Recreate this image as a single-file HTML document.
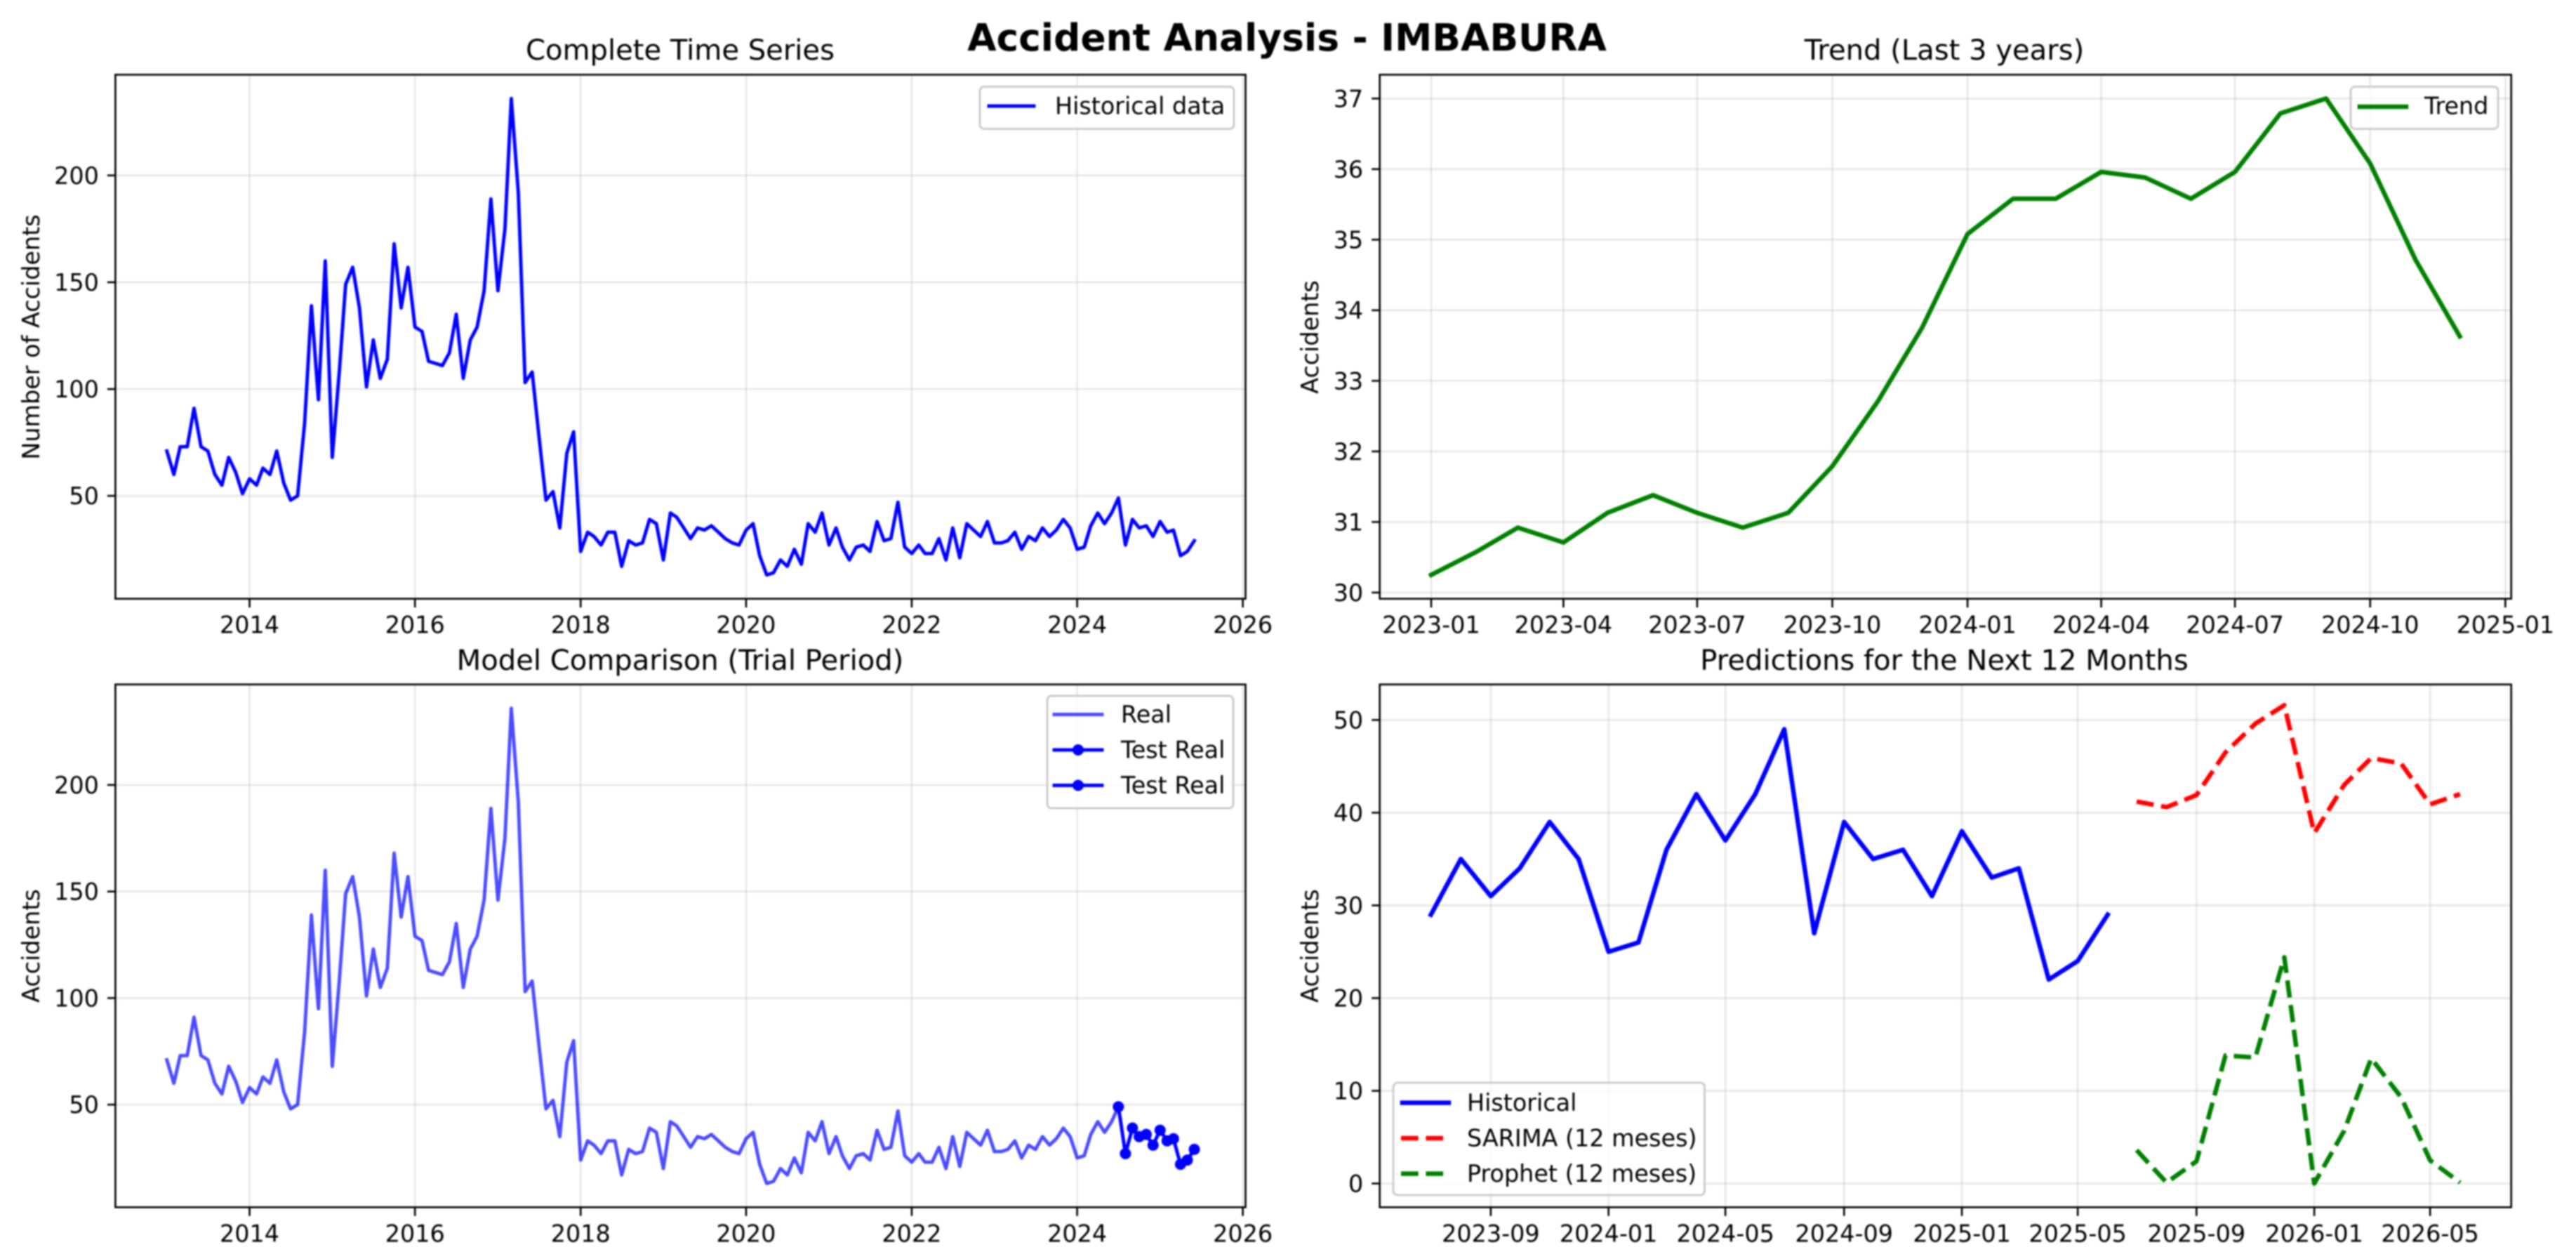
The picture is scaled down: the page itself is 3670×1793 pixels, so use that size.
<!DOCTYPE html>
<html lang="en">
<head>
<meta charset="utf-8">
<title>Accident Analysis - IMBABURA</title>
<style>
html,body{margin:0;padding:0;background:#fff;width:3670px;height:1793px;overflow:hidden}
svg{display:block;filter:blur(1px)}
text{font-family:"DejaVu Sans","Liberation Sans",sans-serif;fill:#000}
.tick-label,.legend-label,.axis-title{font-size:33.4px}
.panel-title{font-size:40.1px;text-anchor:middle}
.frame{fill:none;stroke:#000;stroke-width:2.6}
.legend-box{fill:#fff;fill-opacity:.8;stroke:#ccc;stroke-width:3}
</style>
</head>
<body>
<svg id="figure" xmlns="http://www.w3.org/2000/svg" width="3670" height="1793" viewBox="0 0 3670 1793">
  <rect width="3670" height="1793" fill="#fff"/>

  <g id="overview-panel"></g>
  <g id="trend-panel"></g>
  <g id="comparison-panel"></g>
  <g id="forecast-panel"></g>

  <text x="1833.5" y="72" font-size="53.4" font-weight="700" text-anchor="middle">Accident Analysis - IMBABURA</text>

  <text class="panel-title" x="969" y="85">Complete Time Series</text>
  <text class="panel-title" x="2770" y="85">Trend (Last 3 years)</text>
  <text class="panel-title" x="969" y="954">Model Comparison (Trial Period)</text>
  <text class="panel-title" x="2770" y="954">Predictions for the Next 12 Months</text>

  <text class="axis-title" text-anchor="middle" transform="translate(56 480) rotate(-90)">Number of Accidents</text>
  <text class="axis-title" text-anchor="middle" transform="translate(1878 480) rotate(-90)">Accidents</text>
  <text class="axis-title" text-anchor="middle" transform="translate(56 1347) rotate(-90)">Accidents</text>
  <text class="axis-title" text-anchor="middle" transform="translate(1878 1347) rotate(-90)">Accidents</text>

  <g>
    <rect class="legend-box" x="1396" y="123.5" width="362" height="60" rx="6"/>
    <line x1="1409" x2="1473" y1="151" y2="151" stroke="#00f" stroke-width="4.9" stroke-linecap="square"/>
    <text class="legend-label" x="1503" y="162.5">Historical data</text>
  </g>

  <g>
    <rect class="legend-box" x="3349" y="123.5" width="210" height="60" rx="6"/>
    <line x1="3362" x2="3428" y1="152" y2="152" stroke="#008000" stroke-width="6.5" stroke-linecap="square"/>
    <text class="legend-label" x="3454" y="162.5">Trend</text>
  </g>

  <g>
    <rect class="legend-box" x="1492" y="991" width="265" height="160" rx="6"/>
    <line x1="1502" x2="1570" y1="1017.5" y2="1017.5" stroke="#00f" stroke-opacity=".7" stroke-width="4.9" stroke-linecap="square"/>
    <text class="legend-label" x="1597" y="1029">Real</text>
    <line x1="1502" x2="1570" y1="1068" y2="1068" stroke="#00f" stroke-width="4.9" stroke-linecap="square"/>
    <circle cx="1536" cy="1068" r="8" fill="#00f"/>
    <text class="legend-label" x="1597" y="1079.5">Test Real</text>
    <line x1="1502" x2="1570" y1="1118.5" y2="1118.5" stroke="#00f" stroke-width="4.9" stroke-linecap="square"/>
    <circle cx="1536" cy="1118.5" r="8" fill="#00f"/>
    <text class="legend-label" x="1597" y="1130">Test Real</text>
  </g>

  <g>
    <rect class="legend-box" x="1985" y="1542" width="443.5" height="160" rx="6"/>
    <line x1="1998" x2="2064" y1="1570.5" y2="1570.5" stroke="#00f" stroke-width="6.5" stroke-linecap="square"/>
    <text class="legend-label" x="2090" y="1582">Historical</text>
    <line x1="1996" x2="2066" y1="1621" y2="1621" stroke="#f00" stroke-width="6.5" stroke-dasharray="24.7 10.7"/>
    <text class="legend-label" x="2090" y="1632.5">SARIMA (12 meses)</text>
    <line x1="1996" x2="2066" y1="1671.5" y2="1671.5" stroke="#008000" stroke-width="6.5" stroke-dasharray="24.7 10.7"/>
    <text class="legend-label" x="2090" y="1683">Prophet (12 meses)</text>
  </g>
</svg>

<script>
// ---------- Categories ----------
const historyMonths = [
"2013-01","2013-02","2013-03","2013-04","2013-05","2013-06","2013-07","2013-08","2013-09","2013-10","2013-11","2013-12",
"2014-01","2014-02","2014-03","2014-04","2014-05","2014-06","2014-07","2014-08","2014-09","2014-10","2014-11","2014-12",
"2015-01","2015-02","2015-03","2015-04","2015-05","2015-06","2015-07","2015-08","2015-09","2015-10","2015-11","2015-12",
"2016-01","2016-02","2016-03","2016-04","2016-05","2016-06","2016-07","2016-08","2016-09","2016-10","2016-11","2016-12",
"2017-01","2017-02","2017-03","2017-04","2017-05","2017-06","2017-07","2017-08","2017-09","2017-10","2017-11","2017-12",
"2018-01","2018-02","2018-03","2018-04","2018-05","2018-06","2018-07","2018-08","2018-09","2018-10","2018-11","2018-12",
"2019-01","2019-02","2019-03","2019-04","2019-05","2019-06","2019-07","2019-08","2019-09","2019-10","2019-11","2019-12",
"2020-01","2020-02","2020-03","2020-04","2020-05","2020-06","2020-07","2020-08","2020-09","2020-10","2020-11","2020-12",
"2021-01","2021-02","2021-03","2021-04","2021-05","2021-06","2021-07","2021-08","2021-09","2021-10","2021-11","2021-12",
"2022-01","2022-02","2022-03","2022-04","2022-05","2022-06","2022-07","2022-08","2022-09","2022-10","2022-11","2022-12",
"2023-01","2023-02","2023-03","2023-04","2023-05","2023-06","2023-07","2023-08","2023-09","2023-10","2023-11","2023-12",
"2024-01","2024-02","2024-03","2024-04","2024-05","2024-06","2024-07","2024-08","2024-09","2024-10","2024-11","2024-12",
"2025-01","2025-02","2025-03","2025-04","2025-05","2025-06"];
const trendMonths = ["2023-01","2023-02","2023-03","2023-04","2023-05","2023-06","2023-07","2023-08","2023-09","2023-10","2023-11","2023-12",
"2024-01","2024-02","2024-03","2024-04","2024-05","2024-06","2024-07","2024-08","2024-09","2024-10","2024-11","2024-12"];
const testMonths = ["2024-07","2024-08","2024-09","2024-10","2024-11","2024-12","2025-01","2025-02","2025-03","2025-04","2025-05","2025-06"];
const recentMonths = ["2023-07","2023-08","2023-09","2023-10","2023-11","2023-12","2024-01","2024-02","2024-03","2024-04","2024-05","2024-06",
"2024-07","2024-08","2024-09","2024-10","2024-11","2024-12","2025-01","2025-02","2025-03","2025-04","2025-05","2025-06"];
const forecastMonths = ["2025-07","2025-08","2025-09","2025-10","2025-11","2025-12","2026-01","2026-02","2026-03","2026-04","2026-05","2026-06"];

// ---------- Series values ----------
const historicalValues = [
71,60,73,73,91,73,71,60,55,68,61,51,
58,55,63,60,71,56,48,50,84,139,95,160,
68,108,149,157,138,101,123,105,114,168,138,157,
129,127,113,112,111,117,135,105,123,129,146,189,
146,175,236,192,103,108,78,48,52,35,70,80,
24,33,31,27,33,33,17,29,27,28,39,37,
20,42,40,35,30,35,34,36,33,30,28,27,
34,37,22,13,14,20,17,25,18,37,33,42,
27,35,26,20,26,27,24,38,29,30,47,26,
23,27,23,23,30,20,35,21,37,34,31,38,
28,28,29,33,25,31,29,35,31,34,39,35,
25,26,36,42,37,42,49,27,39,35,36,31,
38,33,34,22,24,29];
const trendValues = [30.25,30.58,30.92,30.71,31.13,31.38,31.13,30.92,31.13,31.79,32.71,33.75,
35.08,35.58,35.58,35.96,35.88,35.58,35.96,36.79,37.0,36.08,34.71,33.63];
const realValues = [
71,60,73,73,91,73,71,60,55,68,61,51,
58,55,63,60,71,56,48,50,84,139,95,160,
68,108,149,157,138,101,123,105,114,168,138,157,
129,127,113,112,111,117,135,105,123,129,146,189,
146,175,236,192,103,108,78,48,52,35,70,80,
24,33,31,27,33,33,17,29,27,28,39,37,
20,42,40,35,30,35,34,36,33,30,28,27,
34,37,22,13,14,20,17,25,18,37,33,42,
27,35,26,20,26,27,24,38,29,30,47,26,
23,27,23,23,30,20,35,21,37,34,31,38,
28,28,29,33,25,31,29,35,31,34,39,35,
25,26,36,42,37,42,49,27,39,35,36,31,
38,33,34,22,24,29];
const testRealValues = [49,27,39,35,36,31,38,33,34,22,24,29];
const recentValues = [29,35,31,34,39,35,25,26,36,42,37,42,49,27,39,35,36,31,38,33,34,22,24,29];
const sarimaValues = [41.2,40.6,41.9,46.5,49.6,51.6,37.8,43.0,45.9,45.3,40.9,42.0];
const prophetValues = [3.6,0.1,2.4,13.8,13.6,24.4,0.0,5.7,13.5,9.3,2.5,0.1];

// ---------- Tick labels ----------
const yearTickLabels = ["2014","2016","2018","2020","2022","2024","2026"];
const trendTickLabels = ["2023-01","2023-04","2023-07","2023-10","2024-01","2024-04","2024-07","2024-10","2025-01"];
const forecastTickLabels = ["2023-09","2024-01","2024-05","2024-09","2025-01","2025-05","2025-09","2026-01","2026-05"];
const countTickLabels = [50,100,150,200];
const trendValueTickLabels = [30,31,32,33,34,35,36,37];
const forecastValueTickLabels = [0,10,20,30,40,50];

// ---------- Axis helpers ----------
const SVG_NS = "http://www.w3.org/2000/svg";

function toTime(label) {
  const parts = String(label).split("-").map(Number);
  return Date.UTC(parts[0], (parts[1] || 1) - 1, parts[2] || 1);
}
function timeAxis(startLabel, endLabel, left, right) {
  const t0 = toTime(startLabel), t1 = toTime(endLabel);
  return label => left + (toTime(label) - t0) / (t1 - t0) * (right - left);
}
function valueAxis(min, max, bottom, top) {
  return value => bottom - (value - min) / (max - min) * (bottom - top);
}
function shape(parent, tag, attrs) {
  const node = document.createElementNS(SVG_NS, tag);
  for (const key in attrs) node.setAttribute(key, attrs[key]);
  parent.appendChild(node);
  return node;
}
function drawFrame(panel, box, xAxis, yAxis, xLabels, yLabels, prefix) {
  for (const label of xLabels) {
    const gx = xAxis(label);
    if (gx <= box.right) {
      const grid = shape(panel, "line", {x1: gx, x2: gx, y1: box.top, y2: box.bottom, stroke: "#b0b0b0", "stroke-opacity": 0.3, "stroke-width": 2.6});
      
      
    }
    const tick = shape(panel, "line", {x1: gx, x2: gx, y1: box.bottom, y2: box.bottom + 12.4, stroke: "#000", "stroke-width": 2.6});
    
    
    const text = shape(panel, "text", {x: gx, y: box.bottom + 49, "text-anchor": "middle", class: "tick-label"});
    
    
    text.textContent = label;
  }
  for (const value of yLabels) {
    const gy = yAxis(value);
    const grid = shape(panel, "line", {x1: box.left, x2: box.right, y1: gy, y2: gy, stroke: "#b0b0b0", "stroke-opacity": 0.3, "stroke-width": 2.6});
    
    
    const tick = shape(panel, "line", {x1: box.left - 11.5, x2: box.left, y1: gy, y2: gy, stroke: "#000", "stroke-width": 2.6});
    
    
    const text = shape(panel, "text", {x: box.left - 23.5, y: gy + 12, "text-anchor": "end", class: "tick-label"});
    
    
    text.textContent = value;
  }
}
function drawSeries(panel, xAxis, yAxis, months, values, style, name) {
  const points = months.map((m, i) => xAxis(m).toFixed(2) + "," + yAxis(values[i]).toFixed(2)).join(" ");
  const attrs = {points: points, fill: "none", "stroke-linejoin": "round"};
  for (const key in style) attrs[key] = style[key];
  const line = shape(panel, "polyline", attrs);
  
  
  return line;
}
function drawMarkers(panel, xAxis, yAxis, months, values, name) {
  months.forEach((m, i) => {
    const dot = shape(panel, "circle", {cx: xAxis(m), cy: yAxis(values[i]), r: 8, fill: "#00f"});
    
    
  });
}
function drawBorder(panel, box, name) {
  const rect = shape(panel, "rect", {x: box.left, y: box.top, width: box.right - box.left, height: box.bottom - box.top, class: "frame"});
  
  
}

// ---------- Panel 1: complete time series ----------
const overviewBox = {left: 164.4, right: 1774.5, top: 106.4, bottom: 852.7};
const overviewX = timeAxis("2012-05-19", "2026-01-13", overviewBox.left, overviewBox.right);
const overviewY = valueAxis(1.85, 247.15, overviewBox.bottom, overviewBox.top);
const overviewPanel = document.getElementById("overview-panel");
drawFrame(overviewPanel, overviewBox, overviewX, overviewY, yearTickLabels, countTickLabels, "overview");
drawSeries(overviewPanel, overviewX, overviewY, historyMonths, historicalValues, {stroke: "#00f", "stroke-width": 4.9, "stroke-linecap": "square"}, "historical-data-line");
drawBorder(overviewPanel, overviewBox, "overview-plot-frame");

// ---------- Panel 2: trend ----------
const trendBox = {left: 1965.7, right: 3577.7, top: 106.4, bottom: 852.7};
const trendX = timeAxis("2022-11-27", "2025-01-05", trendBox.left, trendBox.right);
const trendY = valueAxis(29.9125, 37.3375, trendBox.bottom, trendBox.top);
const trendPanel = document.getElementById("trend-panel");
drawFrame(trendPanel, trendBox, trendX, trendY, trendTickLabels, trendValueTickLabels, "trend");
drawSeries(trendPanel, trendX, trendY, trendMonths, trendValues, {stroke: "#008000", "stroke-width": 6.5, "stroke-linecap": "square"}, "trend-line");
drawBorder(trendPanel, trendBox, "trend-plot-frame");

// ---------- Panel 3: model comparison ----------
const comparisonBox = {left: 164.4, right: 1774.5, top: 974.8, bottom: 1719.3};
const comparisonX = timeAxis("2012-05-19", "2026-01-13", comparisonBox.left, comparisonBox.right);
const comparisonY = valueAxis(1.85, 247.15, comparisonBox.bottom, comparisonBox.top);
const comparisonPanel = document.getElementById("comparison-panel");
drawFrame(comparisonPanel, comparisonBox, comparisonX, comparisonY, yearTickLabels, countTickLabels, "comparison");
drawSeries(comparisonPanel, comparisonX, comparisonY, historyMonths, realValues, {stroke: "#00f", "stroke-opacity": 0.7, "stroke-width": 4.9, "stroke-linecap": "square"}, "real-line");
drawSeries(comparisonPanel, comparisonX, comparisonY, testMonths, testRealValues, {stroke: "#00f", "stroke-width": 4.9, "stroke-linecap": "square"}, "test-real-line");
drawMarkers(comparisonPanel, comparisonX, comparisonY, testMonths, testRealValues, "test-real-point");
drawBorder(comparisonPanel, comparisonBox, "comparison-plot-frame");

// ---------- Panel 4: predictions ----------
const forecastBox = {left: 1965.7, right: 3577.7, top: 974.8, bottom: 1719.3};
const forecastX = timeAxis("2023-05-09", "2026-07-24", forecastBox.left, forecastBox.right);
const forecastY = valueAxis(-2.56, 53.83, forecastBox.bottom, forecastBox.top);
const forecastPanel = document.getElementById("forecast-panel");
drawFrame(forecastPanel, forecastBox, forecastX, forecastY, forecastTickLabels, forecastValueTickLabels, "predictions");
drawSeries(forecastPanel, forecastX, forecastY, recentMonths, recentValues, {stroke: "#00f", "stroke-width": 6.5, "stroke-linecap": "square"}, "recent-historical-line");
drawSeries(forecastPanel, forecastX, forecastY, forecastMonths, sarimaValues, {stroke: "#f00", "stroke-width": 6.5, "stroke-dasharray": "24.7 10.7"}, "sarima-forecast-line");
drawSeries(forecastPanel, forecastX, forecastY, forecastMonths, prophetValues, {stroke: "#008000", "stroke-width": 6.5, "stroke-dasharray": "24.7 10.7"}, "prophet-forecast-line");
drawBorder(forecastPanel, forecastBox, "predictions-plot-frame");
</script>
</body>
</html>
